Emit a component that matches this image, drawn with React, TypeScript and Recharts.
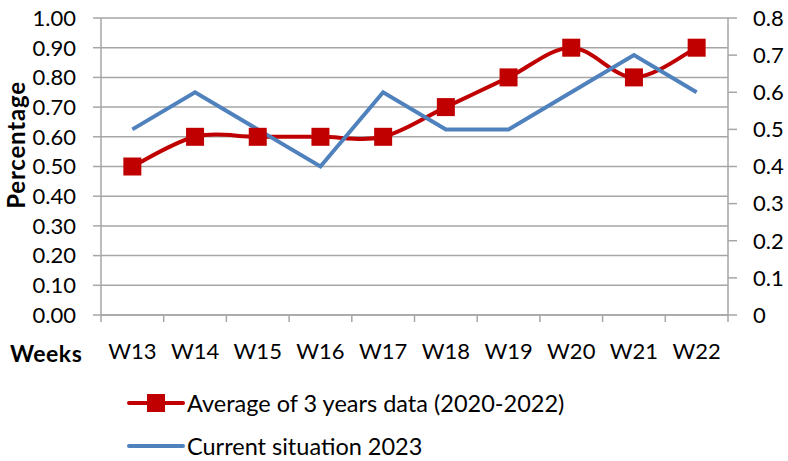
import {
  CartesianGrid,
  ComposedChart,
  Label,
  Line,
  XAxis,
  YAxis,
} from "recharts";

const WEEKS = ["W13", "W14", "W15", "W16", "W17", "W18", "W19", "W20", "W21", "W22"];
const AVERAGE = [0.5, 0.6, 0.6, 0.6, 0.6, 0.7, 0.8, 0.9, 0.8, 0.9];
const CURRENT = [0.5, 0.6, 0.5, 0.4, 0.6, 0.5, 0.5, 0.6, 0.7, 0.6];
const LEFT_TICKS = [0, 0.1, 0.2, 0.3, 0.4, 0.5, 0.6, 0.7, 0.8, 0.9, 1];
const RIGHT_TICKS = [0, 0.1, 0.2, 0.3, 0.4, 0.5, 0.6, 0.7, 0.8];
const SERIES_NAMES = ["Average of 3 years data (2020-2022)", "Current situation 2023"];

const RED = "#C00000";
const BLUE = "#4F81BD";
const GRID = "#A6A6A6";
const FONT = "Lato, 'Open Sans', sans-serif";

const data = WEEKS.map((week, i) => ({
  week,
  average: AVERAGE[i],
  current: CURRENT[i],
}));

// Excel-style smoothed line (Catmull-Rom as cubic beziers)
const excelCurve = (context: any) => {
  let pts: [number, number][] = [];
  return {
    areaStart() {},
    areaEnd() {},
    lineStart() {
      pts = [];
    },
    point(x: number, y: number) {
      pts.push([+x, +y]);
    },
    lineEnd() {
      if (!pts.length) return;
      context.moveTo(pts[0][0], pts[0][1]);
      for (let i = 0; i < pts.length - 1; i++) {
        const p0 = pts[i - 1] ?? pts[i];
        const p1 = pts[i];
        const p2 = pts[i + 1];
        const p3 = pts[i + 2] ?? p2;
        context.bezierCurveTo(
          p1[0] + (p2[0] - p0[0]) / 6,
          p1[1] + (p2[1] - p0[1]) / 6,
          p2[0] - (p3[0] - p1[0]) / 6,
          p2[1] - (p3[1] - p1[1]) / 6,
          p2[0],
          p2[1]
        );
      }
    },
  };
};

const PLOT_LEFT = 101;
const PLOT_RIGHT = 728;
const HALF_BAND = (PLOT_RIGHT - PLOT_LEFT) / WEEKS.length / 2;

function WeekTick(props: any) {
  const { x, y, payload, index } = props;
  return (
    <g>
      <line x1={x - HALF_BAND} x2={x - HALF_BAND} y1={y} y2={y + 7} stroke={GRID} strokeWidth={1.5} />
      {index === WEEKS.length - 1 && (
        <line x1={x + HALF_BAND} x2={x + HALF_BAND} y1={y} y2={y + 7} stroke={GRID} strokeWidth={1.5} />
      )}
      <text x={x} y={y + 44} textAnchor="middle" fontSize={22} fill="#000" fontFamily={FONT}>
        {payload.value}
      </text>
    </g>
  );
}

function SquareDot(props: any) {
  const { cx, cy, index } = props;
  if (cx == null || cy == null) return null;
  return <rect key={`sq-${index}`} x={cx - 9} y={cy - 9} width={18} height={18} fill={RED} />;
}

function ChartLegend() {
  const row = (color: string, marker: boolean, text: string) => (
    <div key={text} style={{ display: "flex", alignItems: "center", height: 43 }}>
      <svg width={58} height={20} style={{ marginRight: 2 }}>
        <line x1={2} x2={56} y1={10} y2={10} stroke={color} strokeWidth={4} strokeLinecap="round" />
        {marker && <rect x={20} y={1} width={18} height={18} fill={RED} />}
      </svg>
      <span style={{ fontSize: 23.5, lineHeight: "22px", color: "#000", fontFamily: FONT }}>{text}</span>
    </div>
  );
  return (
    <div style={{ position: "absolute", left: 127, top: 381 }}>
      {row(RED, true, SERIES_NAMES[0])}
      {row(BLUE, false, SERIES_NAMES[1])}
    </div>
  );
}

export default function App() {
  return (
    <div style={{ position: "absolute", left: 0, top: 0, width: 788, height: 461, fontFamily: FONT }}>
      <ComposedChart
        width={788}
        height={461}
        data={data}
        margin={{ top: 18, right: 0, left: 0, bottom: 86 }}
      >
        <CartesianGrid yAxisId="left" vertical={false} stroke={GRID} strokeWidth={1.5} />
        <XAxis
          dataKey="week"
          scale="band"
          height={60}
          tickLine={false}
          tickSize={0}
          tickMargin={0}
          stroke={GRID}
          strokeWidth={1.5}
          tick={<WeekTick />}
          interval={0}
        >
          <Label
            content={() => (
              <text x={10} y={362} fontSize={23} fontWeight="bold" letterSpacing={0.5} fill="#000" fontFamily={FONT}>
                Weeks
              </text>
            )}
          />
        </XAxis>
        <YAxis
          yAxisId="left"
          width={PLOT_LEFT}
          domain={[0, 1]}
          ticks={LEFT_TICKS}
          tickFormatter={(v: number) => v.toFixed(2)}
          tickSize={8}
          tickMargin={17}
          stroke={GRID}
          strokeWidth={1.5}
          tick={{ fill: "#000", fontSize: 22 }}
          interval={0}
        >
          <Label
            content={() => (
              <text
                x={15}
                y={145}
                transform="rotate(-90 15 145)"
                textAnchor="middle"
                dominantBaseline="central"
                fontSize={24}
                fontWeight="bold"
                letterSpacing={0.8}
                fill="#000"
                fontFamily={FONT}
              >
                Percentage
              </text>
            )}
          />
        </YAxis>
        <YAxis
          yAxisId="right"
          orientation="right"
          width={788 - PLOT_RIGHT}
          domain={[0, 0.8]}
          ticks={RIGHT_TICKS}
          tickFormatter={(v: number) => (v === 0 ? "0" : v.toFixed(1))}
          tickSize={9}
          tickMargin={16}
          stroke={GRID}
          strokeWidth={1.5}
          tick={{ fill: "#000", fontSize: 22 }}
          interval={0}
        />
        <Line
          yAxisId="left"
          dataKey="average"
          name={SERIES_NAMES[0]}
          type={excelCurve as any}
          stroke={RED}
          strokeWidth={4}
          dot={<SquareDot />}
          activeDot={false}
          isAnimationActive={false}
        />
        <Line
          yAxisId="right"
          dataKey="current"
          name={SERIES_NAMES[1]}
          type="linear"
          stroke={BLUE}
          strokeWidth={4}
          dot={false}
          activeDot={false}
          isAnimationActive={false}
        />
      </ComposedChart>
      <ChartLegend />
    </div>
  );
}
